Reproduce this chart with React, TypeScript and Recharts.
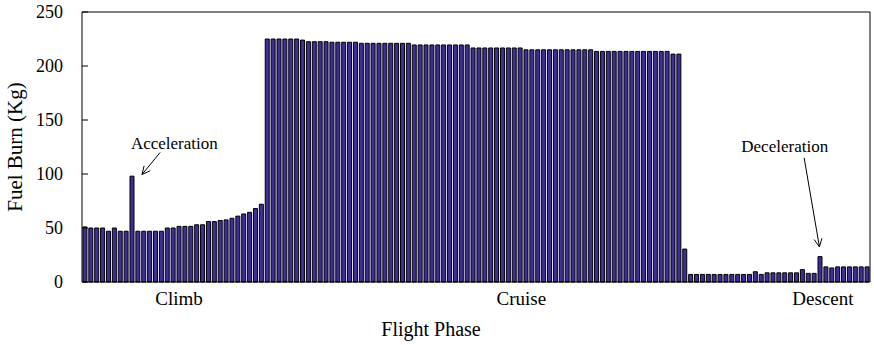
import { Bar, BarChart, ReferenceDot, ReferenceLine, XAxis, YAxis } from 'recharts';

// fuel burn per segment (kg)
const climb = [51, 50, 50, 50, 47, 50, 47, 47, 98, 47, 47, 47, 47, 47, 50, 50, 51.5, 51.5, 51.5, 53, 53, 56, 56, 57, 57.5, 59, 61, 63, 64.5, 68, 72];
const cruise = [
  225, 225, 225, 225, 225, 225, 224, 222.5, 222.5, 222.5, 222.5, 222, 222, 222, 222, 222,
  221, 221, 221, 221, 221, 221, 221, 221, 221,
  219.5, 219.5, 219.5, 219.5, 219.5, 219.5, 219.5, 219.5, 219.5, 219.5,
  216.7, 216.7, 216.7, 216.7, 216.7, 216.7, 216.7, 216.7, 216.7,
  215, 215, 215, 215, 215, 215, 215, 215, 215, 215, 215, 215,
  213.5, 213.5, 213.5, 213.5, 213.5, 213.5, 213.5, 213.5, 213.5, 213.5, 213.5, 213.5, 213.5,
  211, 211,
];
const descent = [30.5, 7, 7, 7, 7, 7, 7, 7, 7, 7, 7, 7, 9.5, 7, 8.5, 8.5, 8.5, 8.5, 8.5, 8.5, 11.5, 8, 8, 23.5, 14, 13, 14, 14, 14, 14, 14, 14];

const burn = [...climb, ...cruise, ...descent];
const data = burn.map((v, i) => ({ idx: i + 1, burn: v }));

const yTicks = [0, 50, 100, 150, 200, 250];
const phaseNames = ['Climb', 'Cruise', 'Descent'];
const phaseTicks = [17, 75.2, 126.5];
const frameTicks = [47.5, 95.8];

// annotation arrows, in (bar index, kg)
const notes = [
  { text: 'Acceleration', tail: [13.8, 120], head: [10.7, 99.5], at: [16.2, 129] },
  { text: 'Deceleration', tail: [123.3, 115], head: [125.9, 32.5], at: [120, 125.5] },
];

const font = '"Liberation Serif", "Times New Roman", serif';
const xDomain = [0.5, burn.length + 0.5];

function Arrow(p: any) {
  const { x1, y1, x2, y2 } = p;
  const a = Math.atan2(y2 - y1, x2 - x1);
  const len = 9;
  const spread = 0.45;
  const ax = x2 - len * Math.cos(a - spread);
  const ay = y2 - len * Math.sin(a - spread);
  const bx = x2 - len * Math.cos(a + spread);
  const by = y2 - len * Math.sin(a + spread);
  return (
    <g stroke="#000" strokeWidth={1} fill="none">
      <line x1={x1} y1={y1} x2={x2} y2={y2} />
      <polyline points={`${ax},${ay} ${x2},${y2} ${bx},${by}`} />
    </g>
  );
}

export default function App() {
  return (
    <div style={{ position: 'absolute', left: 0, top: 0, background: '#fff' }}>
      <BarChart
        width={874}
        height={345}
        data={data}
        margin={{ top: 11, right: 3, left: 0, bottom: 0 }}
        barCategoryGap="16%"
      >
        <XAxis xAxisId="cat" dataKey="idx" type="category" hide height={0} />
        <XAxis
          xAxisId="num"
          dataKey="idx"
          type="number"
          domain={xDomain}
          allowDataOverflow
          ticks={phaseTicks}
          interval={0}
          tickFormatter={(v: number) => phaseNames[phaseTicks.indexOf(v)]}
          tickLine={false}
          tickSize={6}
          tickMargin={4}
          height={63}
          axisLine={{ stroke: '#000', strokeWidth: 1 }}
          tick={{ fill: '#000', fontSize: 19, fontFamily: font }}
          label={{
            content: (props: any) => {
              const vb = props.viewBox;
              return (
                <text
                  x={431}
                  y={vb.y + vb.height - 9}
                  textAnchor="middle"
                  fill="#000"
                  fontSize={20}
                  fontFamily={font}
                >
                  Flight Phase
                </text>
              );
            },
          }}
        />
        <XAxis
          xAxisId="top"
          orientation="top"
          dataKey="idx"
          type="number"
          domain={xDomain}
          allowDataOverflow
          ticks={frameTicks}
          tick={false}
          tickSize={-7}
          height={1}
          axisLine={{ stroke: '#000', strokeWidth: 1 }}
          tickLine={{ stroke: '#000', strokeWidth: 1 }}
        />
        <YAxis
          yAxisId="l"
          domain={[0, 250]}
          ticks={yTicks}
          interval={0}
          width={82}
          tickSize={-6}
          tickMargin={25}
          axisLine={{ stroke: '#000', strokeWidth: 1 }}
          tickLine={{ stroke: '#000', strokeWidth: 1 }}
          tick={{ fill: '#000', fontSize: 18, fontFamily: font }}
          label={{
            content: (props: any) => {
              const vb = props.viewBox;
              const cx = vb.x + 15;
              const cy = vb.y + vb.height / 2;
              return (
                <text
                  x={cx}
                  y={cy}
                  transform={`rotate(-90 ${cx} ${cy})`}
                  textAnchor="middle"
                  dominantBaseline="central"
                  fill="#000"
                  fontSize={21}
                  fontFamily={font}
                >
                  Fuel Burn (Kg)
                </text>
              );
            },
          }}
        />
        <YAxis
          yAxisId="r"
          orientation="right"
          domain={[0, 250]}
          ticks={yTicks}
          interval={0}
          width={1}
          tick={false}
          tickSize={-6}
          axisLine={{ stroke: '#000', strokeWidth: 1 }}
          tickLine={{ stroke: '#000', strokeWidth: 1 }}
        />
        <Bar
          xAxisId="cat"
          yAxisId="l"
          dataKey="burn"
          fill="#3d2f99"
          stroke="#000"
          strokeWidth={1}
          isAnimationActive={false}
        />
        {notes.map((n) => (
          <ReferenceLine
            key={n.text}
            xAxisId="num"
            yAxisId="l"
            segment={[
              { x: n.tail[0], y: n.tail[1] },
              { x: n.head[0], y: n.head[1] },
            ]}
            shape={Arrow}
          />
        ))}
        {notes.map((n) => (
          <ReferenceDot
            key={n.text + '-t'}
            xAxisId="num"
            yAxisId="l"
            x={n.at[0]}
            y={n.at[1]}
            r={0.1}
            fill="none"
            stroke="none"
            label={{ value: n.text, position: 'center', fill: '#000', fontSize: 17, fontFamily: font }}
          />
        ))}
      </BarChart>
    </div>
  );
}
